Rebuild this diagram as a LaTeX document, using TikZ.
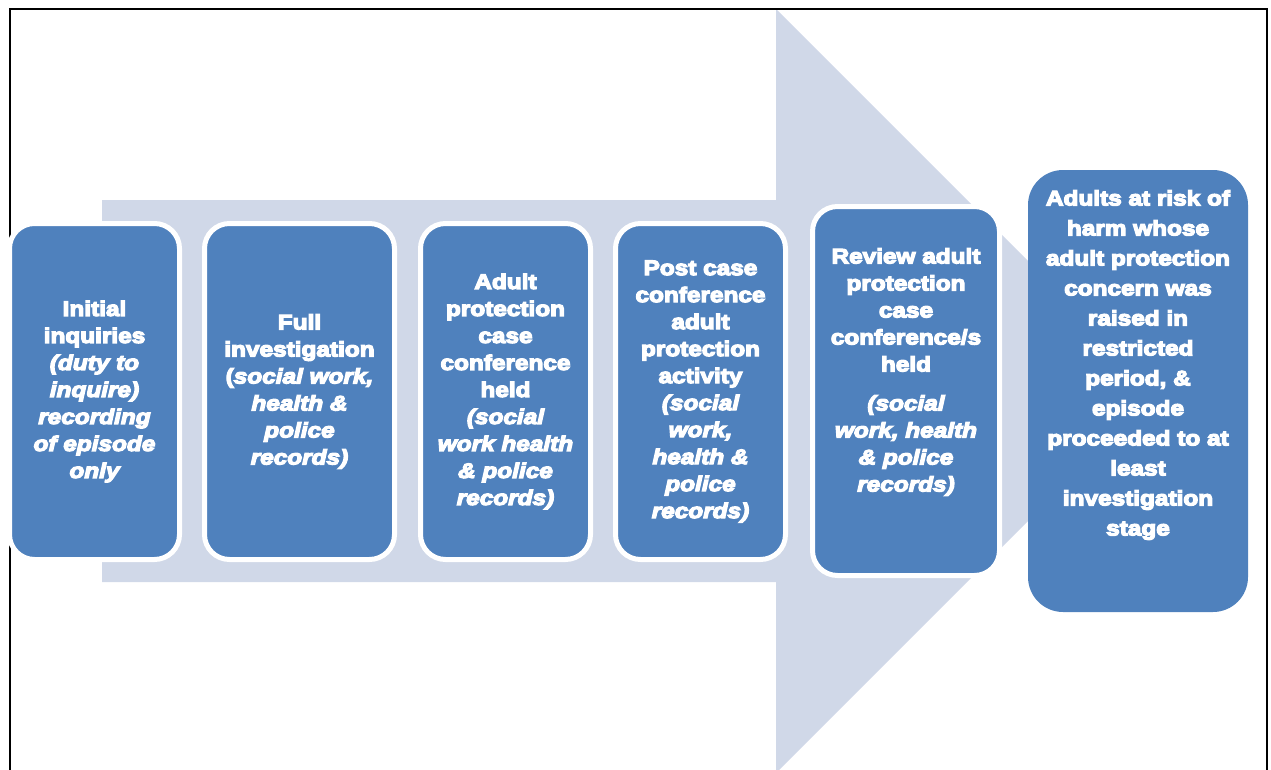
\documentclass[tikz,border=0pt]{standalone}
\usepackage{fontspec}
\newfontfamily\heavy{Liberation Sans}[BoldFeatures={FakeBold=6,FakeStretch=1.16},BoldItalicFeatures={FakeBold=6,FakeStretch=1.16}]
\definecolor{boxblue}{HTML}{4F81BD}
\definecolor{arrowfill}{HTML}{D0D8E8}
\tikzset{
  stepbox/.style={rectangle, rounded corners=25pt, fill=boxblue, draw=white, line width=5pt, inner sep=0pt},
  endbox/.style={rectangle, rounded corners=35pt, fill=boxblue, inner sep=0pt},
  steptext/.style={text=white, align=center, inner sep=0pt, font=\heavy\bfseries\fontsize{21}{27}\selectfont},
  frameline/.style={draw=black, line width=2.5pt},
}
\begin{document}
\begin{tikzpicture}[x=1pt,y=-1pt]
\useasboundingbox (0,0) rectangle (1271,769);
% big background arrow
\fill[arrowfill] (102,200) -- (776,200) -- (776,9) -- (1158,391) -- (776,773) -- (776,582) -- (102,582) -- cycle;
% frame
\draw[frameline] (10,775) -- (10,9) -- (1267,9) -- (1267,775);
% boxes
\node[stepbox, minimum width=170pt, minimum height=336pt] (b1) at (94.5,391.5) {};
\node[stepbox, minimum width=190pt, minimum height=336pt] (b2) at (299.5,391.5) {};
\node[stepbox, minimum width=170pt, minimum height=336pt] (b3) at (505.5,391.5) {};
\node[stepbox, minimum width=170pt, minimum height=336pt] (b4) at (700.5,391.5) {};
\node[stepbox, minimum width=187pt, minimum height=369pt] (b5) at (906,391) {};
\node[endbox, minimum width=220pt, minimum height=442pt] (b6) at (1138,391) {};
% texts
\node[steptext] (t1) at (b1.center) {Initial\\inquiries\\\itshape (duty to\\\itshape inquire)\\\itshape recording\\\itshape of episode\\\itshape only};
\node[steptext] (t2) at (b2.center) {Full\\investigation\\(\itshape social work,\\\itshape health \&\\\itshape police\\\itshape records)};
\node[steptext] (t3) at (b3.center) {Adult\\protection\\case\\conference\\held\\\itshape (social\\\itshape work health\\\itshape \& police\\\itshape records)};
\node[steptext] (t4) at (b4.center) {Post case\\conference\\adult\\protection\\activity\\\itshape (social\\\itshape work,\\\itshape health \&\\\itshape police\\\itshape records)};
\node[steptext, yshift=19pt] (t5) at (b5.center) {Review adult\\protection\\case\\conference/s\\held\\[12pt]\itshape (social\\\itshape work, health\\\itshape \& police\\\itshape records)};
\node[steptext, font=\heavy\bfseries\fontsize{21}{30}\selectfont, yshift=26pt] (t6) at (b6.center) {Adults at risk of\\harm whose\\adult protection\\concern was\\raised in\\restricted\\period, \&\\episode\\proceeded to at\\least\\investigation\\stage};
\end{tikzpicture}
\end{document}
